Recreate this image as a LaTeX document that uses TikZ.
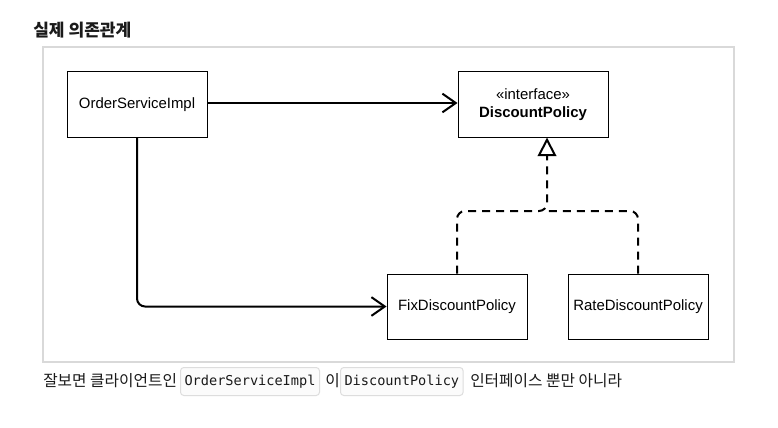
\documentclass[tikz,border=0pt]{standalone}
\usepackage{fontspec}
\setmainfont{Liberation Sans}
\newfontfamily\kr{Noto Sans CJK KR}
\newfontfamily\codefont{DejaVu Sans Mono}
\usetikzlibrary{arrows.meta,positioning}
\definecolor{framegray}{HTML}{D9D9D9}
\definecolor{codebg}{HTML}{FBFBFB}
\definecolor{codeline}{HTML}{DDDDDD}
\definecolor{txt}{HTML}{1A1A1A}
\begin{document}
\begin{tikzpicture}[x=0.75pt,y=-0.75pt,
  cls/.style={draw=black,line width=0.75pt,fill=white,minimum width=105pt,minimum height=48.75pt,inner sep=0pt,font=\fontsize{11.2pt}{13.5pt}\selectfont,align=center},
  conn/.style={line width=1.5pt,rounded corners=6pt},
  dep/.style={conn,-{Straight Barb[length=10pt,width=14pt,line width=1.5pt]}},
  impl/.style={conn,dash pattern=on 6pt off 4.5pt,-{Triangle[open,length=14pt,width=14pt,line width=1.5pt]}},
  codebox/.style={draw=codeline,line width=0.75pt,fill=codebg,rounded corners=2.5pt,inner xsep=3pt,minimum height=21pt,font=\codefont\fontsize{10.2pt}{12pt}\selectfont,text=txt},
  kor/.style={font=\kr\fontsize{11.8pt}{14pt}\selectfont,text=txt,inner sep=0pt}
]
\useasboundingbox (0,0) rectangle (778,428);
\fill[white] (0,0) rectangle (778,428);
\node[anchor=west,inner sep=0pt,font=\kr\bfseries\fontsize{12.8pt}{15pt}\selectfont,text=txt] (title) at (33,30) {실제 의존관계};
\draw[framegray,line width=1.5pt] (43,47) rectangle (734,362);
\node[cls] (osi) at (137,104.5) {OrderServiceImpl};
\node[cls,minimum width=112.5pt] (dp) at (533,104.5) {«interface»\\\textbf{DiscountPolicy}};
\node[cls] (fix) at (457,306.5) {FixDiscountPolicy};
\node[cls] (rate) at (638,306.5) {RateDiscountPolicy};
\coordinate (j) at (547,211);
\draw[dep] (osi.east |- 0,103) -- (dp.west |- 0,103);
\draw[dep] (osi.south) |- (fix.west);
\draw[impl] (fix.north) |- (j) -- (dp.south -| j);
\draw[conn,dash pattern=on 6pt off 4.5pt] (rate.north) |- (j);
\node[kor,anchor=west] (t1) at (43,381) {잘보면 클라이언트인};
\node[codebox,anchor=west] (c1) at (180,381.5) {OrderServiceImpl};
\node[kor,anchor=west] (t2) at (325,381) {이};
\node[codebox,anchor=west] (c2) at (340,381.5) {DiscountPolicy};
\node[kor,anchor=west] (t3) at (470,381) {인터페이스 뿐만 아니라};
\end{tikzpicture}
\end{document}
